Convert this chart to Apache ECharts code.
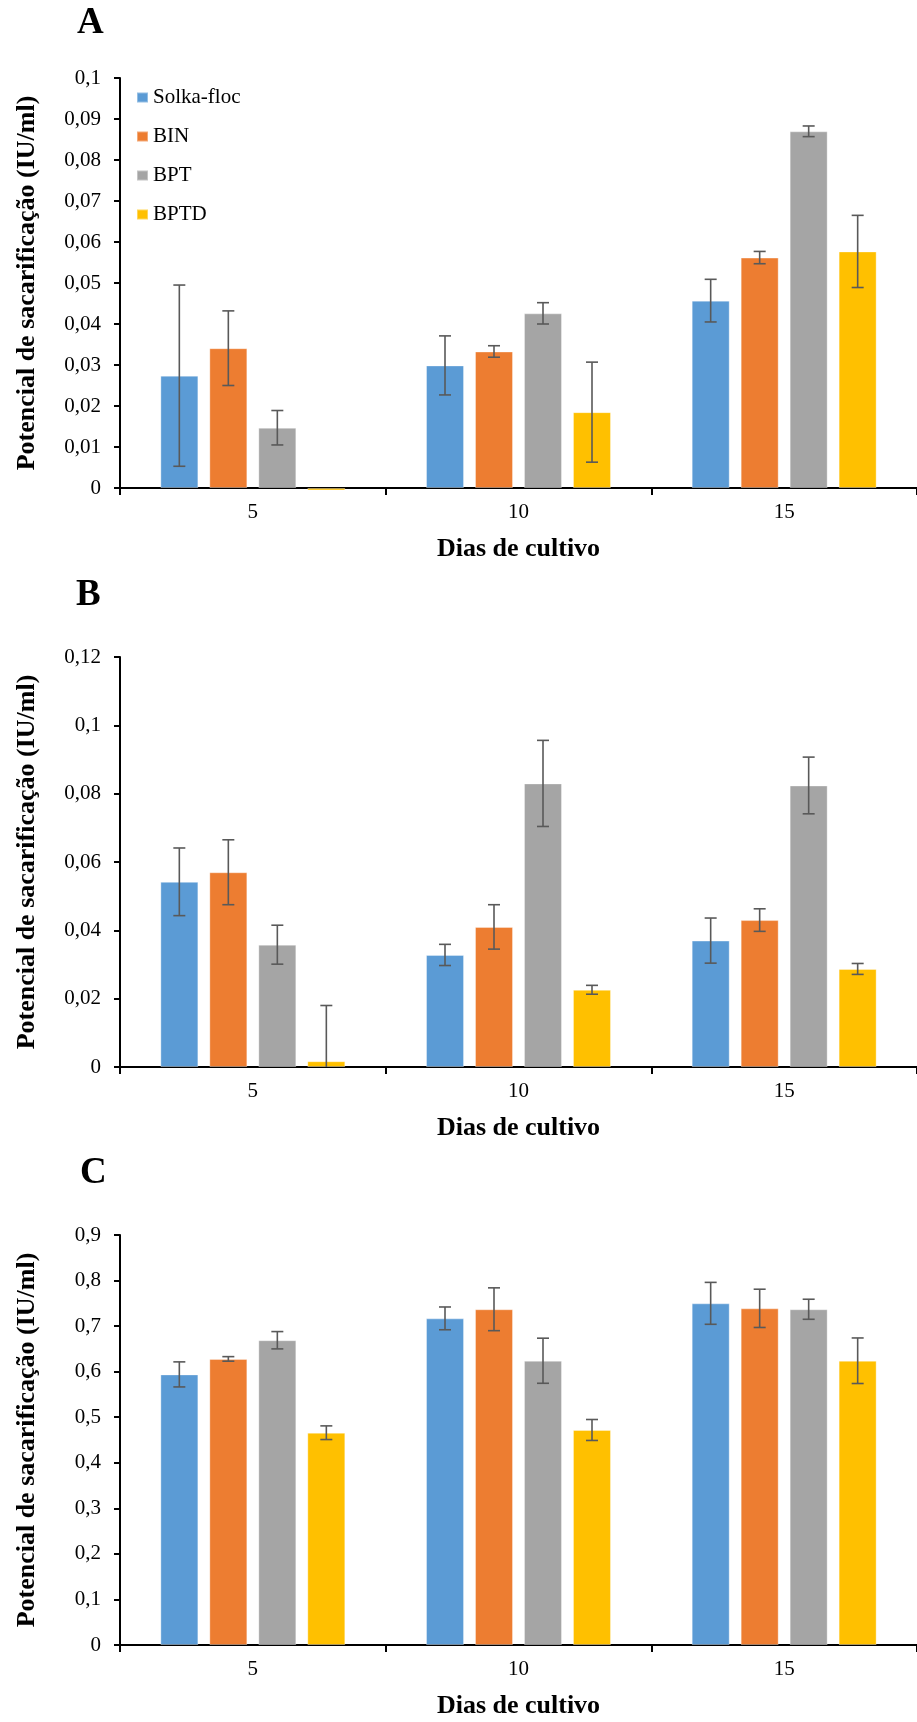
<!DOCTYPE html>
<html>
<head>
<meta charset="utf-8">
<title>Potencial de sacarificação</title>
<script src="https://cdn.jsdelivr.net/npm/echarts@6/dist/echarts.min.js"></script>
<style>
  html, body { margin: 0; padding: 0; background: #ffffff; }
  #chart { width: 917px; height: 1722px; }
</style>
</head>
<body>
<div id="chart"></div>
<script>
// ---- data ----------------------------------------------------------------
const days = ['5', '10', '15'];
const seriesNames = ['Solka-floc', 'BIN', 'BPT', 'BPTD'];
const panelLetters = ['A', 'B', 'C'];

// axis ranges [min, max, interval] per panel
const axisA = [0, 0.1, 0.01];
const axisB = [0, 0.12, 0.02];
const axisC = [0, 0.9, 0.1];

// Panel A: means and standard deviations (IU/ml)
const aSolka = [0.0274, 0.0299, 0.0457];
const aBIN   = [0.0341, 0.0333, 0.0562];
const aBPT   = [0.0147, 0.0426, 0.0870];
const aBPTD  = [-0.0006, 0.0185, 0.0577];
const aSolkaErr = [0.0221, 0.0072, 0.0052];
const aBINErr   = [0.0091, 0.0014, 0.0015];
const aBPTErr   = [0.0042, 0.0026, 0.0013];
const aBPTDErr  = [0, 0.0122, 0.0088];

// Panel B
const bSolka = [0.0542, 0.0328, 0.0370];
const bBIN   = [0.0570, 0.0410, 0.0430];
const bBPT   = [0.0358, 0.0830, 0.0824];
const bBPTD  = [0.0017, 0.0226, 0.0287];
const bSolkaErr = [0.0099, 0.0031, 0.0066];
const bBINErr   = [0.0095, 0.0065, 0.0033];
const bBPTErr   = [0.0057, 0.0126, 0.0083];
const bBPTDErr  = [0.0163, 0.0013, 0.0016];

// Panel C
const cSolka = [0.594, 0.717, 0.750];
const cBIN   = [0.628, 0.737, 0.739];
const cBPT   = [0.669, 0.624, 0.737];
const cBPTD  = [0.466, 0.472, 0.624];
const cSolkaErr = [0.0275, 0.025, 0.046];
const cBINErr   = [0.005, 0.047, 0.042];
const cBPTErr   = [0.019, 0.0495, 0.022];
const cBPTDErr  = [0.015, 0.023, 0.050];

// ---- styling -------------------------------------------------------------
const colors = ['#5B9BD5', '#ED7D31', '#A5A5A5', '#FFC000'];
const FONT = "'Liberation Serif', 'Times New Roman', serif";
const BAR_W = 38;
const BAR_GAP = 11;
const gridTops = [78, 657, 1235];
const GRID_H = 410;
const GRID_LEFT = 120;
const GRID_W = 804;

const panels = [
  { axis: axisA, values: [aSolka, aBIN, aBPT, aBPTD], errs: [aSolkaErr, aBINErr, aBPTErr, aBPTDErr] },
  { axis: axisB, values: [bSolka, bBIN, bBPT, bBPTD], errs: [bSolkaErr, bBINErr, bBPTErr, bBPTDErr] },
  { axis: axisC, values: [cSolka, cBIN, cBPT, cBPTD], errs: [cSolkaErr, cBINErr, cBPTErr, cBPTDErr] }
];

const fmt = v => String(+v.toFixed(4)).replace('.', ',');

const grids = [], xAxes = [], yAxes = [], series = [], graphics = [];

panels.forEach((p, pi) => {
  grids.push({ left: GRID_LEFT, top: gridTops[pi], width: GRID_W, height: GRID_H, containLabel: false });
  xAxes.push({
    type: 'category', gridIndex: pi, data: days,
    axisLine: { show: true, lineStyle: { color: '#000', width: 2 } },
    axisTick: { show: true, length: 7, lineStyle: { color: '#000', width: 2 } },
    axisLabel: { color: '#000', fontFamily: FONT, fontSize: 21, margin: 14 },
    splitLine: { show: false },
    name: 'Dias de cultivo', nameLocation: 'middle', nameGap: 48,
    nameTextStyle: { color: '#000', fontFamily: FONT, fontSize: 26, fontWeight: 'bold' }
  });
  yAxes.push({
    type: 'value', gridIndex: pi,
    min: p.axis[0], max: p.axis[1], interval: p.axis[2],
    axisLine: { show: true, lineStyle: { color: '#000', width: 2 } },
    axisTick: { show: true, length: 6, lineStyle: { color: '#000', width: 2 } },
    axisLabel: { color: '#000', fontFamily: FONT, fontSize: 21, margin: 19, formatter: fmt },
    splitLine: { show: false },
    name: 'Potencial de sacarificação (IU/ml)', nameLocation: 'middle', nameGap: 80, nameRotate: 90,
    nameTextStyle: { color: '#000', fontFamily: FONT, fontSize: 26, fontWeight: 'bold' }
  });

  p.values.forEach((vals, si) => {
    series.push({
      type: 'bar', name: seriesNames[si],
      xAxisIndex: pi, yAxisIndex: pi,
      data: vals,
      barWidth: BAR_W, barGap: (BAR_GAP / BAR_W * 100).toFixed(1) + '%',
      clip: false,
      itemStyle: { color: colors[si], borderColor: 'rgba(255,255,255,0.35)', borderWidth: 1 },
      z: 2
    });
  });

  // error bars, one custom series per bar series, offset to the bar's slot
  p.values.forEach((vals, si) => {
    const errs = p.errs[si];
    const yMin = p.axis[0];
    const offset = (si - (p.values.length - 1) / 2) * (BAR_W + BAR_GAP);
    series.push({
      type: 'custom', name: seriesNames[si],
      xAxisIndex: pi, yAxisIndex: pi,
      data: vals.map((v, i) => [i, v, errs[i]]),
      encode: { x: 0, y: 1 },
      z: 5, silent: true,
      renderItem: (params, api) => {
        const x = api.value(0), v = api.value(1), e = api.value(2);
        if (!e) return null;
        const hi = api.coord([x, v + e]);
        const lo = api.coord([x, Math.max(v - e, yMin)]);
        const cx = hi[0] + offset;
        const cap = 6;
        const st = { stroke: '#595959', lineWidth: 1.6 };
        const children = [
          { type: 'line', shape: { x1: cx, y1: hi[1], x2: cx, y2: lo[1] }, style: st },
          { type: 'line', shape: { x1: cx - cap, y1: hi[1], x2: cx + cap, y2: hi[1] }, style: st }
        ];
        if (v - e > yMin) {
          children.push({ type: 'line', shape: { x1: cx - cap, y1: lo[1], x2: cx + cap, y2: lo[1] }, style: st });
        }
        return { type: 'group', children };
      }
    });
  });

  graphics.push({
    type: 'text', left: [77, 76, 80][pi], top: [5, 577, 1155][pi],
    style: { text: panelLetters[pi], fill: '#000', font: 'bold 37px ' + FONT }
  });
});

const chart = echarts.init(document.getElementById('chart'), null, { renderer: 'canvas' });
chart.setOption({
  backgroundColor: '#ffffff',
  animation: false,
  grid: grids,
  xAxis: xAxes,
  yAxis: yAxes,
  legend: {
    data: seriesNames.map(n => ({ name: n, icon: 'rect' })),
    orient: 'vertical', left: 136, top: 87, padding: 0,
    itemWidth: 11, itemHeight: 10, itemGap: 18,
    textStyle: { color: '#000', fontFamily: FONT, fontSize: 21, lineHeight: 21 },
    selectedMode: false
  },
  graphic: graphics,
  series: series
});
</script>
</body>
</html>
